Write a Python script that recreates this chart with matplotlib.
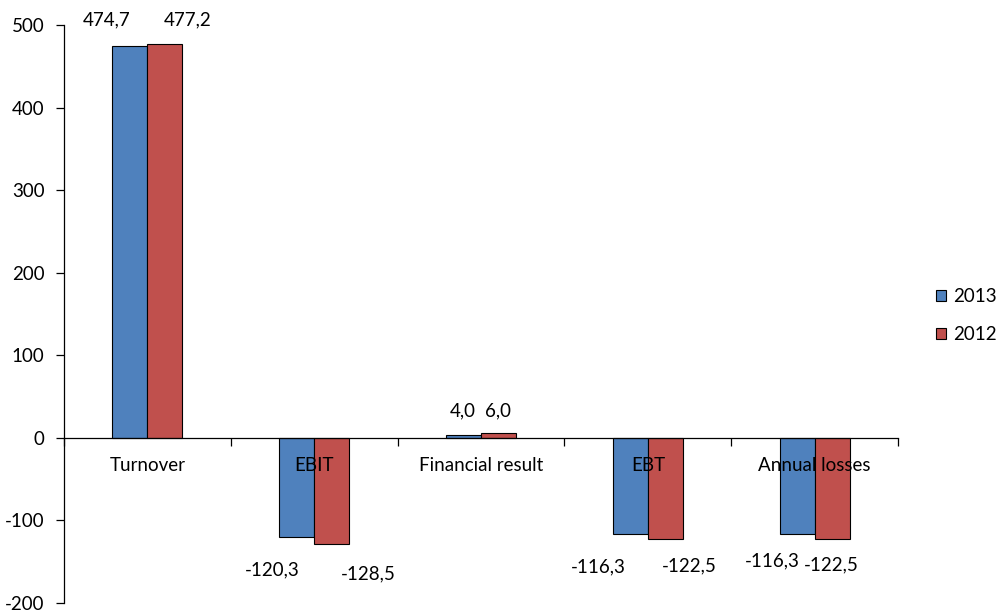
import numpy as np
import matplotlib.pyplot as plt

plt.rcParams['font.family'] = ['Lato', 'DejaVu Sans']
plt.rcParams['axes.unicode_minus'] = False

categories = ["Turnover", "EBIT", "Financial result", "EBT", "Annual losses"]
values_2013 = [474.7, -120.3, 4.0, -116.3, -116.3]
values_2012 = [477.2, -128.5, 6.0, -122.5, -122.5]

# label nudges in pixels (dx) and label heights, so the numbers sit like the original sheet
offsets_2013 = [-23, -24, -1, -32, -25]
offsets_2012 = [23, 37, -1, 24, -1]
label_y_2013 = [20, 570, 411, 567, 561]
label_y_2012 = [20, 574, 411, 566, 565]

blue = "#4F81BD"
red = "#C0504D"
fs = 13.5

fig = plt.figure(figsize=(9.99, 6.12), dpi=100)
ax = fig.add_axes([0.064, 0.0147, 0.835, 0.9444])

x = np.arange(len(categories))
w = 0.21
b1 = ax.bar(x - w / 2, values_2013, w, color=blue, edgecolor="black", linewidth=0.8, label="2013")
b2 = ax.bar(x + w / 2, values_2012, w, color=red, edgecolor="black", linewidth=0.8, label="2012")

ax.set_xlim(-0.5, len(categories) - 0.5)
ax.set_ylim(-200, 500)
ax.set_yticks(range(-200, 501, 100))

ax.spines["top"].set_visible(False)
ax.spines["right"].set_visible(False)
ax.spines["bottom"].set_position(("data", 0))
for s in ("left", "bottom"):
    ax.spines[s].set_linewidth(0.9)

ax.set_xticks(np.arange(-0.5, len(categories), 1.0))
ax.set_xticklabels([])
ax.set_xticks(x, minor=True)
ax.set_xticklabels(categories, minor=True)
ax.tick_params(axis="x", which="major", direction="out", length=6, width=0.9)
ax.tick_params(axis="x", which="minor", length=0, pad=14, labelsize=fs)
ax.tick_params(axis="y", direction="out", length=6, width=0.9, labelsize=fs, pad=8)

# value labels, placed in figure pixels
H = 612
for bars, vals, offs, ys in ((b1, values_2013, offsets_2013, label_y_2013),
                             (b2, values_2012, offsets_2012, label_y_2012)):
    for rect, v, dx, py in zip(bars, vals, offs, ys):
        cx = rect.get_x() + rect.get_width() / 2
        px = ax.transData.transform((cx, 0))[0] + dx
        fig.text(px / 999, 1 - py / H, f"{v:.1f}".replace(".", ","),
                 ha="center", va="center", fontsize=fs)

fig.legend(handles=[b1, b2], loc="center left", bbox_to_anchor=(0.937, 0.484),
           frameon=False, fontsize=fs, handlelength=0.55, handleheight=0.55,
           handletextpad=0.35, labelspacing=1.1, borderaxespad=0, borderpad=0)

fig.savefig("out.png", dpi=100)
